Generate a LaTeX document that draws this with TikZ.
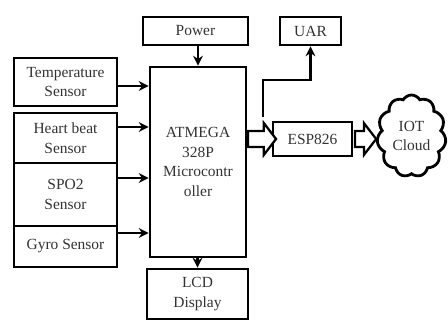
\documentclass[tikz,border=0pt]{standalone}
\usepackage{fontspec}
\setmainfont{Liberation Serif}
\usetikzlibrary{arrows.meta,shapes.arrows,shapes.symbols}

\begin{document}
\begin{tikzpicture}[x=0.025cm,y=-0.025cm,line width=2pt,
  blk/.style={draw,inner sep=0pt,align=center,text=black!80,font=\fontsize{11}{14}\selectfont},
  arr/.style={-{Stealth[length=7pt,width=7pt]},line width=1.6pt},
  fat/.style={single arrow,draw,fill=white,inner xsep=0pt,inner ysep=0.17cm,single arrow head extend=0.2cm,single arrow tip angle=105,line width=1.6pt}]
\useasboundingbox (0,0) rectangle (448,320);
% sensors on the left
\node[blk,minimum width=2.575cm,minimum height=1.2cm] (temp) at (65.5,82) {Temperature\\Sensor};
\node[blk,minimum width=2.575cm,minimum height=1.25cm] (heart) at (65.5,138) {Heart beat\\Sensor};
\node[blk,minimum width=2.575cm,minimum height=1.575cm] (spo) at (65.5,194.5) {SPO2\\Sensor};
\node[blk,minimum width=2.575cm,minimum height=1.025cm] (gyro) at (65.5,246.5) {Gyro Sensor};
% controller
\node[blk,minimum width=2.4cm,minimum height=4.75cm] (mcu) at (198,162) {ATMEGA\\328P\\Microcontr\\oller};
\node[blk,minimum width=2.625cm,minimum height=0.7cm] (power) at (195.5,31) {Power};
\node[blk,minimum width=2.525cm,minimum height=1.25cm] (lcd) at (197.5,294) {LCD\\Display};
% wifi side
\node[blk,minimum width=1.975cm,minimum height=0.85cm] (esp) at (312.5,139) {ESP826};
\node[blk,minimum width=1.525cm,minimum height=0.7cm] (uar) at (310.5,31) {UAR};
\node[blk,cloud,cloud puffs=11,cloud puff arc=120,minimum width=1.725cm,minimum height=2.05cm] (cloud) at (411.5,136) {IOT\\Cloud};
\node[fat,minimum height=0.7cm] (fat1) at (259,139) {};
\node[fat,minimum height=0.53cm] (fat2) at (362.5,139) {};
\coordinate (tap) at (263,117);

\draw[arr] (temp.east |- 0,86) -- (mcu.west |- 0,86);
\draw[arr] (heart.east |- 0,127) -- (mcu.west |- 0,127);
\draw[arr] (spo.east |- 0,178) -- (mcu.west |- 0,178);
\draw[arr] (gyro.east |- 0,233) -- (mcu.west |- 0,233);
\draw[arr] (power.south -| 198,0) -- (mcu.north -| 198,0);
\draw[arr] (lcd.north |- mcu.south) -- (lcd.north);
\draw[arr] (tap) |- (uar.south |- 0,80) -- (uar.south);
\end{tikzpicture}
\end{document}
